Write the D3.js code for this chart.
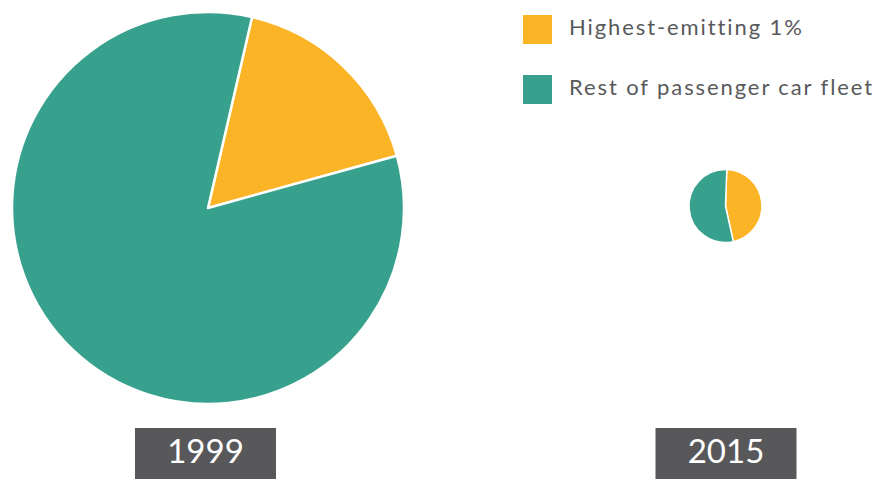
<!DOCTYPE html>
<html>
<head>
<meta charset="utf-8">
<script src="https://cdn.jsdelivr.net/npm/d3@7"></script>
<style>
  html, body { margin: 0; padding: 0; background: #fff; }
  svg { display: block; }
</style>
</head>
<body>
<svg id="chart" width="878" height="479"></svg>
<script>
// ---- data ----
const years = ["1999", "2015"];
const categories = ["Highest-emitting 1%", "Rest of passenger car fleet"];
const topShare = [17.1, 46];          // % of emissions from highest-emitting 1%
const restShare = [82.9, 54];         // % from rest of the fleet
const totals = [100, 3.47];           // relative total emissions (pie area)
const startDeg = [13, 2];             // rotation of first slice

const colors = ["#fcb427", "#38a18e"];

const svg = d3.select("#chart");
const rScale = d3.scaleSqrt().domain([0, 100]).range([0, 196]);
const centers = [[208, 208], [725.5, 206]];
const labelX = [205.5, 726];

const arc = d3.arc().innerRadius(0);

years.forEach((yr, i) => {
  const data = [topShare[i], restShare[i]];
  const s = startDeg[i] * Math.PI / 180;
  const pie = d3.pie().sort(null).startAngle(s).endAngle(s + 2 * Math.PI);
  const r = rScale(totals[i]);
  const g = svg.append("g").attr("transform", `translate(${centers[i][0]},${centers[i][1]})`);
  g.selectAll("path").data(pie(data)).join("path")
    .attr("d", d => arc.outerRadius(r)(d))
    .attr("fill", (d, j) => colors[j])
    .attr("stroke", "#fff")
    .attr("stroke-width", i === 0 ? 2.5 : 1.5)
    .attr("stroke-linejoin", "round");

  // year label box
  const bw = 141, bh = 52;
  svg.append("rect")
    .attr("x", labelX[i] - bw / 2).attr("y", 428)
    .attr("width", bw).attr("height", bh)
    .attr("fill", "#58585a");
  svg.append("text")
    .attr("x", labelX[i]).attr("y", 463)
    .attr("text-anchor", "middle")
    .attr("font-family", "Lato, 'Open Sans', sans-serif")
    .attr("font-size", 33)
    .attr("fill", "#ffffff")
    .text(yr);
});

// legend
const lg = svg.append("g");
categories.forEach((c, j) => {
  const y0 = 15 + j * 60;
  lg.append("rect").attr("x", 523).attr("y", y0).attr("width", 29).attr("height", 29)
    .attr("fill", colors[j]);
  lg.append("text").attr("x", 569).attr("y", y0 + 20)
    .attr("font-family", "Lato, 'Open Sans', sans-serif")
    .attr("font-size", 22)
    .attr("letter-spacing", 1.9)
    .attr("fill", "#58595b")
    .text(c);
});
</script>
</body>
</html>
